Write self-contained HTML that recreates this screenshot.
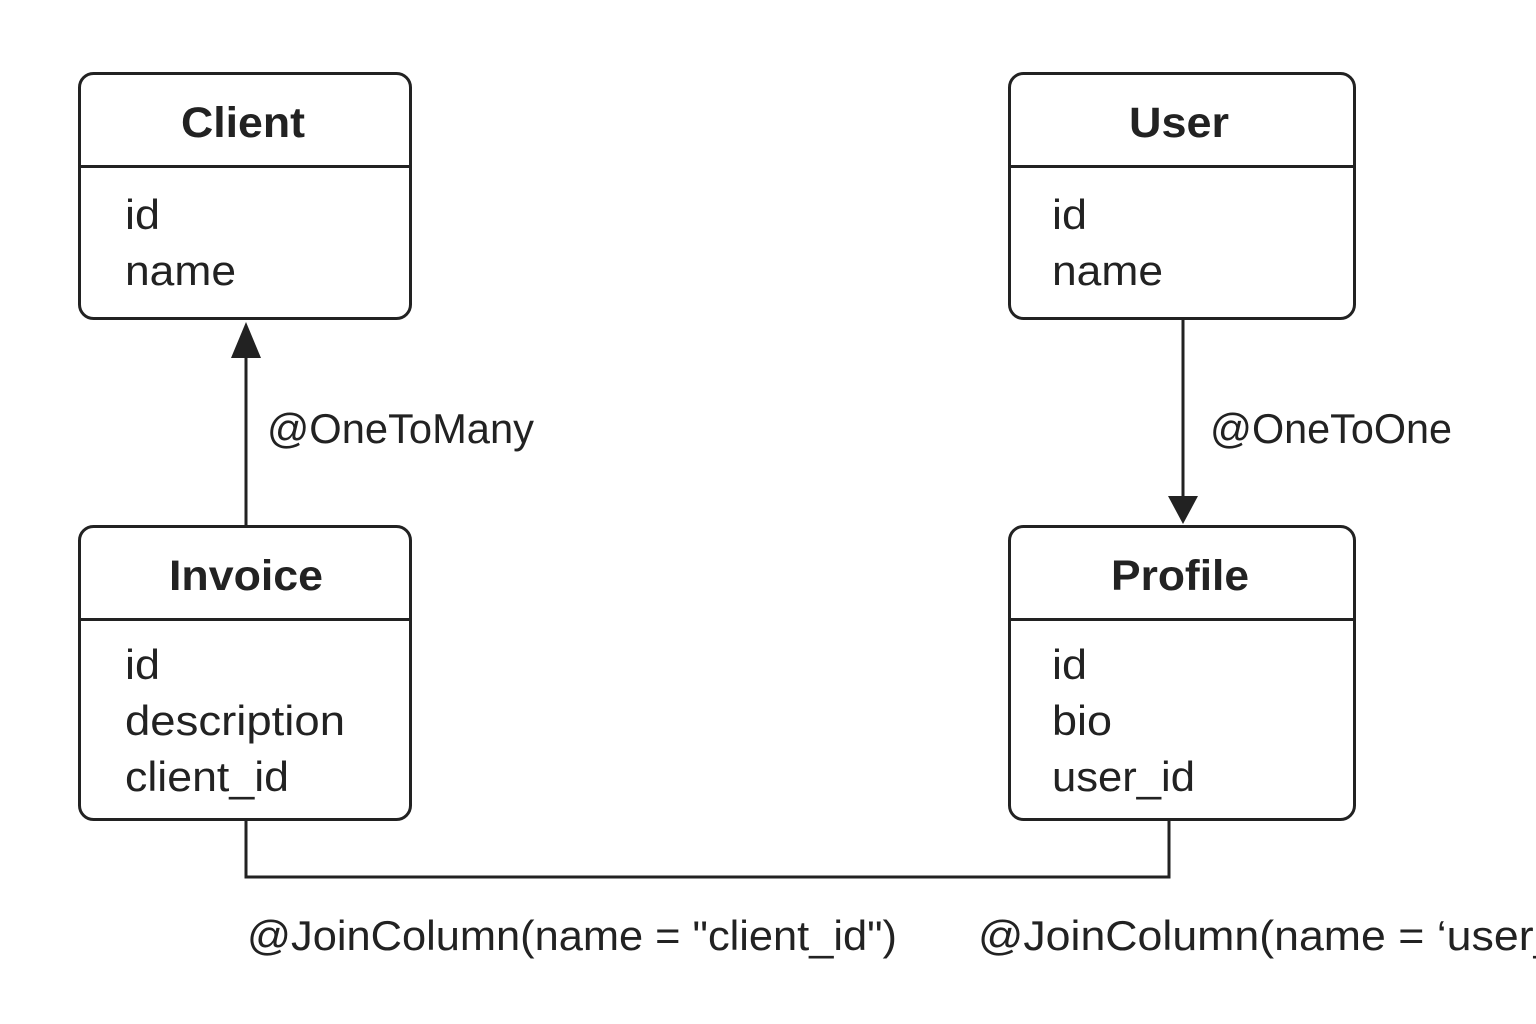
<!DOCTYPE html>
<html><head><meta charset="utf-8"><style>
html,body{margin:0;padding:0;background:#fff;}
body{width:1536px;height:1024px;overflow:hidden;position:relative;}
</style></head><body>
<svg width="1536" height="1024" viewBox="0 0 1536 1024" xmlns="http://www.w3.org/2000/svg" style="position:absolute;left:0;top:0">
<g fill="none" stroke="#222" stroke-width="3">
<rect x="79.5" y="73.5" width="331" height="245" rx="14"/>
<line x1="79.5" y1="166.5" x2="410.5" y2="166.5"/>
<rect x="1009.5" y="73.5" width="345" height="245" rx="14"/>
<line x1="1009.5" y1="166.5" x2="1354.5" y2="166.5"/>
<rect x="79.5" y="526.5" width="331" height="293" rx="14"/>
<line x1="79.5" y1="619.5" x2="410.5" y2="619.5"/>
<rect x="1009.5" y="526.5" width="345" height="293" rx="14"/>
<line x1="1009.5" y1="619.5" x2="1354.5" y2="619.5"/>
<line x1="246" y1="526" x2="246" y2="350"/>
<line x1="1183" y1="319" x2="1183" y2="500"/>
<polyline points="246,820 246,877 1169,877 1169,820"/>
</g>
<polygon points="246,322 231,358 261,358" fill="#222"/>
<polygon points="1183,524 1168,496 1198,496" fill="#222"/>
<g font-family="Liberation Sans, sans-serif" fill="#222" lengthAdjust="spacingAndGlyphs">
<g font-weight="bold" font-size="43">
<text x="181" y="137" textLength="124" lengthAdjust="spacingAndGlyphs">Client</text>
<text x="1129" y="137" textLength="100" lengthAdjust="spacingAndGlyphs">User</text>
<text x="169" y="590" textLength="154" lengthAdjust="spacingAndGlyphs">Invoice</text>
<text x="1111" y="590" textLength="138" lengthAdjust="spacingAndGlyphs">Profile</text>
</g>
<g font-size="42">
<text x="125" y="229" textLength="35" lengthAdjust="spacingAndGlyphs">id</text>
<text x="125" y="285" textLength="111" lengthAdjust="spacingAndGlyphs">name</text>
<text x="1052" y="229" textLength="35" lengthAdjust="spacingAndGlyphs">id</text>
<text x="1052" y="285" textLength="111" lengthAdjust="spacingAndGlyphs">name</text>
<text x="125" y="679" textLength="35" lengthAdjust="spacingAndGlyphs">id</text>
<text x="125" y="735" textLength="220" lengthAdjust="spacingAndGlyphs">description</text>
<text x="125" y="791" textLength="164" lengthAdjust="spacingAndGlyphs">client_id</text>
<text x="1052" y="679" textLength="35" lengthAdjust="spacingAndGlyphs">id</text>
<text x="1052" y="735" textLength="60" lengthAdjust="spacingAndGlyphs">bio</text>
<text x="1052" y="791" textLength="143" lengthAdjust="spacingAndGlyphs">user_id</text>
<text x="267" y="443" textLength="267" lengthAdjust="spacingAndGlyphs">@OneToMany</text>
<text x="1210" y="443" textLength="242" lengthAdjust="spacingAndGlyphs">@OneToOne</text>
<text x="247" y="950" textLength="650" lengthAdjust="spacingAndGlyphs">@JoinColumn(name = "client_id")</text>
<text x="978" y="950" textLength="640" lengthAdjust="spacingAndGlyphs">@JoinColumn(name = ‘user_id’)</text>
</g>
</g>
</svg>
</body></html>
